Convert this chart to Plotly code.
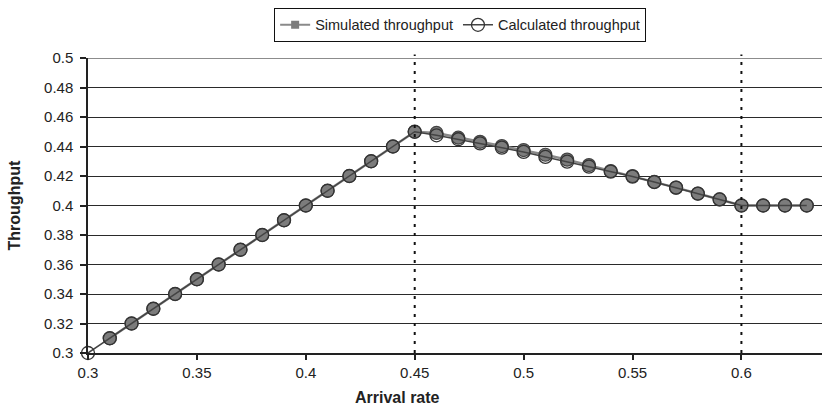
import plotly.graph_objects as go

arrival_rate = [0.30, 0.31, 0.32, 0.33, 0.34, 0.35, 0.36, 0.37, 0.38, 0.39,
                0.40, 0.41, 0.42, 0.43, 0.44, 0.45, 0.46, 0.47, 0.48, 0.49,
                0.50, 0.51, 0.52, 0.53, 0.54, 0.55, 0.56, 0.57, 0.58, 0.59,
                0.60, 0.61, 0.62, 0.63]

calculated = [0.30, 0.31, 0.32, 0.33, 0.34, 0.35, 0.36, 0.37, 0.38, 0.39,
              0.40, 0.41, 0.42, 0.43, 0.44, 0.45, 0.4476, 0.4449, 0.4421, 0.4392,
              0.4363, 0.4329, 0.4297, 0.4263, 0.4229, 0.4196, 0.4159, 0.4121, 0.4080, 0.4041,
              0.400, 0.400, 0.400, 0.400]

sim_rate = arrival_rate[1:]
simulated = [0.31, 0.32, 0.33, 0.34, 0.35, 0.36, 0.37, 0.38, 0.39,
             0.40, 0.41, 0.42, 0.43, 0.44, 0.45, 0.4492, 0.4460, 0.4432, 0.4403,
             0.4376, 0.4344, 0.4311, 0.4274, 0.4234, 0.4200, 0.4160, 0.4121, 0.4081, 0.4041,
             0.400, 0.400, 0.400, 0.400]

vlines = [0.45, 0.60]
x_ticks = [0.3, 0.35, 0.4, 0.45, 0.5, 0.55, 0.6]
y_ticks = [0.3, 0.32, 0.34, 0.36, 0.38, 0.4, 0.42, 0.44, 0.46, 0.48, 0.5]

FONT = "Liberation Sans, Arial, sans-serif"

fig = go.Figure()

# simulated data (drawn as filled grey markers)
fig.add_trace(go.Scatter(
    x=sim_rate, y=simulated, mode="lines+markers", showlegend=False,
    line=dict(color="#8a8a8a", width=2.5),
    marker=dict(symbol="circle", size=13, color="#7c7c7c",
                line=dict(color="#444444", width=1.2)),
    cliponaxis=False,
))
# legend entry for the simulated series
fig.add_trace(go.Scatter(
    x=[None], y=[None], mode="lines+markers", name="Simulated throughput",
    line=dict(color="#8a8a8a", width=2),
    marker=dict(symbol="square", size=8, color="#7c7c7c",
                line=dict(color="#7c7c7c", width=0)),
))
# calculated data (hollow circles)
fig.add_trace(go.Scatter(
    x=arrival_rate, y=calculated, mode="lines+markers", name="Calculated throughput",
    line=dict(color="#444444", width=1.5),
    marker=dict(symbol="circle-open", size=13, color="#333333",
                line=dict(color="#333333", width=1.3)),
    cliponaxis=False,
))

shapes = []
for v in vlines:
    shapes.append(dict(type="line", xref="x", yref="paper", x0=v, x1=v, y0=0, y1=1.012,
                       line=dict(color="#111111", width=2, dash="3px,6px"), layer="above"))
shapes.append(dict(type="line", xref="paper", yref="y", x0=0, x1=1, y0=0.5, y1=0.5,
                   line=dict(color="#8c8c8c", width=2), layer="below"))

fig.update_layout(
    width=822, height=406,
    margin=dict(l=88, r=0, t=58, b=53),
    paper_bgcolor="white", plot_bgcolor="white",
    font=dict(family=FONT, size=15, color="#222222"),
    showlegend=True,
    legend=dict(orientation="h", x=0.507, xanchor="center", y=1.17, yanchor="top",
                bordercolor="#111111", borderwidth=1, bgcolor="white",
                font=dict(size=14.5, family=FONT), itemwidth=30,
                tracegroupgap=0, traceorder="normal"),
    xaxis=dict(range=[0.3, 0.637], tickvals=x_ticks, ticktext=[str(t) for t in x_ticks],
               showgrid=False, zeroline=False, showline=True, linecolor="#222222",
               linewidth=1.5, ticks="outside", ticklen=5, tickcolor="#222222",
               tickwidth=1.5, tickfont=dict(size=15)),
    yaxis=dict(range=[0.3, 0.5], tickvals=y_ticks, ticktext=[f"{t:g}" for t in y_ticks],
               showgrid=True, gridcolor="#2a2a2a", gridwidth=1.3, zeroline=False,
               showline=True, linecolor="#222222", linewidth=1.5, ticks="outside",
               ticklen=6, tickcolor="#222222", tickwidth=1.5, tickfont=dict(size=15),
               ticklabelstandoff=4),
    shapes=shapes,
    annotations=[
        dict(text="<b>Arrival rate</b>", xref="paper", yref="paper", x=0.422, y=-0.150,
             xanchor="center", yanchor="middle", showarrow=False, font=dict(size=16, color="#222222")),
        dict(text="<b>Throughput</b>", xref="paper", yref="paper", x=-0.0995, y=0.5,
             xanchor="center", yanchor="middle", textangle=-90, showarrow=False,
             font=dict(size=16, color="#222222")),
    ],
)

fig.write_html("out.html")
